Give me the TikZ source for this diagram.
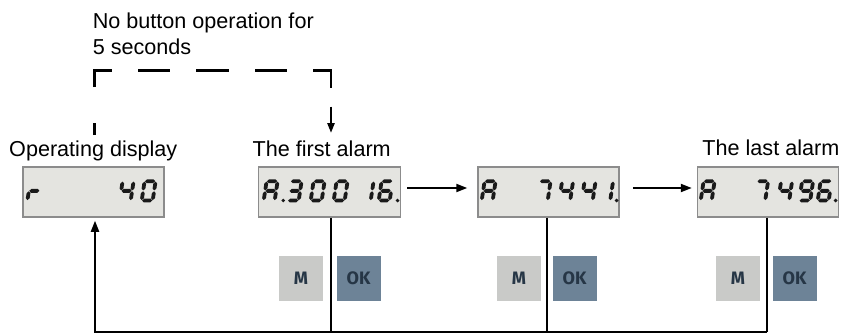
\documentclass[tikz,border=0pt]{standalone}
\usepackage{fontspec}
\setmainfont{Liberation Sans}
\newfontfamily\btnfont{Fira Sans}
\usetikzlibrary{arrows.meta}
\definecolor{lcdfill}{HTML}{E4E4E0}
\definecolor{lcdborder}{HTML}{8C8C8C}
\definecolor{lcdink}{HTML}{1A1A1A}
\definecolor{mfill}{HTML}{C9CAC8}
\definecolor{okfill}{HTML}{6D8397}
\definecolor{btntext}{HTML}{263646}
% seven-segment helpers
\newcommand\lcdh[3]{\fill[lcdink] (#1,#3) -- (#1+1.9,#3-1.9) -- (#2-1.9,#3-1.9) -- (#2,#3) -- (#2-1.9,#3+1.9) -- (#1+1.9,#3+1.9) -- cycle;}
\newcommand\lcdv[3]{\fill[lcdink] (#1,#2) -- (#1+1.9,#2+1.9) -- (#1+1.9,#3-1.9) -- (#1,#3) -- (#1-1.9,#3-1.9) -- (#1-1.9,#2+1.9) -- cycle;}
\expandafter\def\csname lcdsega\endcsname{\lcdh{0.4}{10.6}{-19.3}}
\expandafter\def\csname lcdsegg\endcsname{\lcdh{0.4}{10.6}{-9.65}}
\expandafter\def\csname lcdsegd\endcsname{\lcdh{0.4}{10.6}{0}}
\expandafter\def\csname lcdsegb\endcsname{\lcdv{11}{-18.9}{-10.05}}
\expandafter\def\csname lcdsegc\endcsname{\lcdv{11}{-9.25}{-0.4}}
\expandafter\def\csname lcdsegf\endcsname{\lcdv{0}{-18.9}{-10.05}}
\expandafter\def\csname lcdsege\endcsname{\lcdv{0}{-9.25}{-0.4}}
\newcommand\lcddigit[2]{\begin{scope}[shift={(#1,200.5)},xslant=0.15]\foreach \s in {#2}{\csname lcdseg\s\endcsname}\end{scope}}
\newcommand\lcddot[1]{\fill[lcdink] (#1,200.5) circle (1.9);}
\begin{document}
\begin{tikzpicture}[x=1pt,y=-1pt,
  lcd/.style={draw=lcdborder, fill=lcdfill, line width=1.5pt, minimum height=50pt, inner sep=0pt, rectangle},
  btn/.style={minimum width=44pt, minimum height=45pt, inner sep=0pt, font=\btnfont\bfseries\fontsize{18}{18}\selectfont, text=btntext},
  lbl/.style={anchor=base west, inner sep=0pt, font=\fontsize{21.6}{26}\selectfont},
  conn/.style={line width=2pt, draw=black},
  arr/.style={-{Triangle[length=11pt,width=8pt]}}]
\useasboundingbox (0,0) rectangle (842,333);

% labels
\node[lbl] (n1) at (92.6,28.3) {No button operation for};
\node[lbl] (n2) at (92.6,54) {5 seconds};
\node[lbl] (t1) at (9,156) {Operating display};
\node[lbl] (t2) at (252.5,156) {The first alarm};
\node[lbl, anchor=base east] (t4) at (839.5,155) {The last alarm};

% displays
\node[lcd, minimum width=141pt] (d1) at (93.5,192) {};
\node[lcd, minimum width=142pt] (d2) at (329.5,192) {};
\node[lcd, minimum width=141pt] (d3) at (548.5,192) {};
\node[lcd, minimum width=141pt] (d4) at (768,192) {};

% display contents
\lcddigit{27.4}{e,g}
\lcddigit{119.7}{b,c,f,g}
\lcddigit{141.7}{a,b,c,d,e,f}

\lcddigit{263.7}{a,b,c,e,f,g}
\lcddot{283.3}
\lcddigit{287.7}{a,b,c,d,g}
\lcddigit{310.7}{a,b,c,d,e,f}
\lcddigit{333.7}{a,b,c,d,e,f}
\lcddigit{359.7}{b,c}
\lcddigit{378.7}{a,c,d,e,f,g}
\lcddot{397.6}

\lcddigit{481.7}{a,b,c,e,f,g}
\lcddigit{536.7}{a,b,c}
\lcddigit{559.2}{b,c,f,g}
\lcddigit{581.7}{b,c,f,g}
\lcddigit{599.2}{b,c}
\lcddot{616.6}

\lcddigit{700.7}{a,b,c,e,f,g}
\lcddigit{754.2}{a,b,c}
\lcddigit{778.2}{b,c,f,g}
\lcddigit{799.2}{a,b,c,d,f,g}
\lcddigit{817.7}{a,c,d,e,f,g}
\lcddot{835.6}

% buttons
\node[btn, fill=mfill] (m2) at (301,278.5) {M};
\node[btn, fill=okfill] (ok2) at (358.5,278.5) {OK};
\node[btn, fill=mfill] (m3) at (519,278.5) {M};
\node[btn, fill=okfill] (ok3) at (574.5,278.5) {OK};
\node[btn, fill=mfill] (m4) at (738,278.5) {M};
\node[btn, fill=okfill] (ok4) at (794.5,278.5) {OK};

% connectors
\coordinate (b0) at (95,331.5);
\coordinate (b2) at (331,331.5);
\coordinate (b3) at (547,331.5);
\coordinate (b4) at (767,331.5);
\draw[conn] (d2.south -| b2) -- (b2);
\draw[conn] (d3.south -| b3) -- (b3);
\draw[conn] (d4.south -| b4) -- (b4);
\draw[conn, arr, shorten >=3pt] (b4) -- (b0) -- (b0 |- d1.south);

\draw[conn, arr] ([xshift=6pt,yshift=4pt]d2.east) -- ([xshift=-10pt,yshift=4pt]d3.west);
\draw[conn, arr] ([xshift=13pt,yshift=4pt]d3.east) -- ([xshift=-5pt,yshift=4pt]d4.west);

% dashed timeout path
\coordinate (q1) at (94.5,135);
\coordinate (q2) at (94.5,70.5);
\coordinate (q3) at (331,70.5);
\coordinate (q4) at (331,133);
\draw[line width=2.4pt, -{Triangle[length=10pt,width=7pt]},
  dash pattern=on 12pt off 36pt on 34pt off 26pt on 32pt off 26pt on 33pt off 26pt on 32pt off 26pt on 35pt off 19pt on 40pt]
  (q1) -- (q2) -- (q3) -- (q4);
\end{tikzpicture}
\end{document}
